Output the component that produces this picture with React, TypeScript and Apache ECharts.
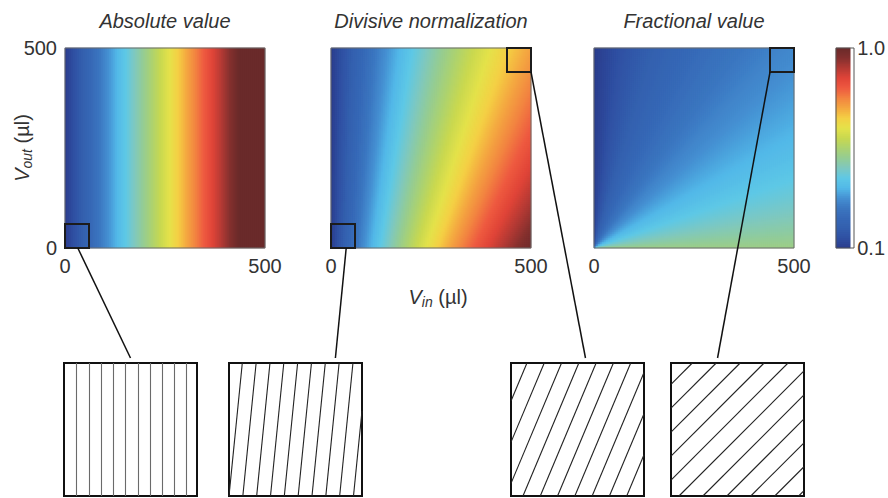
import React, { useEffect, useRef } from 'react';
import * as echarts from 'echarts';

// ---------- data ----------
const panelTitles = ['Absolute value', 'Divisive normalization', 'Fractional value'];
const volumeTicks = [0, 500]; // µl
const volumeMax = 500;
const colorTicks = [0.1, 1.0];
const gridCells = 100;

const absoluteGain = [1.15];
const divisiveParams = [2.48, 1.5, 1.0]; // gain, sigma, weight of V_out
const fractionalGain = [0.47];

const jetColors = [
  '#2a3c8c', '#2f4fa2', '#335fae', '#3668b6', '#3b76c0', '#4590d2', '#52b8e8',
  '#5ec8e6', '#7ec8c0', '#94cc94', '#acd270', '#c8d850', '#e4e24a', '#f4d044',
  '#f4a840', '#f28440', '#ee5a40', '#e04438', '#b43a34', '#84302e', '#6a2a2a',
];

// zoom squares, in µl: [panel, vinFrom, vinTo, voutFrom, voutTo]
const zoomSquares = [
  [0, 0, 60, 0, 60],
  [1, 0, 60, 0, 60],
  [1, 440, 500, 440, 500],
  [2, 440, 500, 440, 500],
];
// link start (µl, on the square) and end (fraction of inset width)
const linkSources = [[32, 0], [38, 0], [500, 440], [440, 440]];
const linkTargets = [0.5, 0.8, 0.56, 0.35];

// contour lines inside the insets (inset units 0..1): [x1, y1, x2, y2]
const hatchAbsolute = [
  [0.093, 0, 0.093, 1], [0.188, 0, 0.188, 1], [0.281, 0, 0.281, 1], [0.371, 0, 0.371, 1],
  [0.464, 0, 0.464, 1], [0.556, 0, 0.556, 1], [0.649, 0, 0.649, 1], [0.739, 0, 0.739, 1],
  [0.832, 0, 0.832, 1], [0.92, 0, 0.92, 1],
];
const hatchDivisiveLow = [
  [0, 0, 0.1, 1], [0.104, 0, 0.204, 1], [0.208, 0, 0.308, 1], [0.312, 0, 0.412, 1],
  [0.416, 0, 0.516, 1], [0.52, 0, 0.62, 1], [0.624, 0, 0.724, 1], [0.728, 0, 0.828, 1],
  [0.832, 0, 0.932, 1], [0.936, 0, 1, 0.64],
];
const hatchDivisiveHigh = [
  [0, 0.714, 0.12, 1], [0, 0.405, 0.25, 1], [0, 0.095, 0.38, 1], [0.09, 0, 0.51, 1],
  [0.22, 0, 0.64, 1], [0.35, 0, 0.77, 1], [0.48, 0, 0.9, 1], [0.61, 0, 1, 0.929],
  [0.74, 0, 1, 0.619], [0.87, 0, 1, 0.31],
];
const hatchFractional = [
  [0, 0.84, 0.16, 1], [0, 0.66, 0.34, 1], [0, 0.48, 0.52, 1], [0, 0.3, 0.7, 1],
  [0, 0.12, 0.88, 1], [0.06, 0, 1, 0.94], [0.24, 0, 1, 0.76], [0.42, 0, 1, 0.58],
  [0.6, 0, 1, 0.4], [0.78, 0, 1, 0.22], [0.96, 0, 1, 0.04],
];
const hatchSets = [hatchAbsolute, hatchDivisiveLow, hatchDivisiveHigh, hatchFractional];
const hatchColors = ['#6a6a6a', '#222', '#222', '#222'];

// ---------- layout ----------
const FONT = '"Liberation Sans", Arial, sans-serif';
const TEXT = '#333';
const PANEL_LEFT = [65, 331, 594];
const PANEL_TOP = 48;
const PANEL_SIZE = 200;
const CB = { left: 836, top: 48, width: 18, height: 200 };
const INSET_LEFT = [64, 229, 511, 671];
const INSET_TOP = 363;
const INSET_SIZE = 133;

const toColor = (c: number) => colorTicks[0] + (colorTicks[1] - colorTicks[0]) * Math.max(0, Math.min(1, c));

const models = [
  (x: number, _y: number) => absoluteGain[0] * x,
  (x: number, y: number) => (divisiveParams[0] * x) / (divisiveParams[1] + x + divisiveParams[2] * y),
  (x: number, y: number) => fractionalGain[0] * (x / (x + y)),
];

function buildPanel(p: number) {
  const data: number[][] = [];
  const rows = p === 0 ? 1 : gridCells;
  for (let i = 0; i < gridCells; i++) {
    for (let j = 0; j < rows; j++) {
      const x = (i + 0.5) / gridCells;
      const y = (j + 0.5) / rows;
      data.push([i, j, toColor(models[p](x, y))]);
    }
  }
  return data;
}

export default function App() {
  const ref = useRef<HTMLDivElement>(null);
  useEffect(() => {
    if (!ref.current) return;
    const chart = echarts.init(ref.current, undefined, { renderer: 'svg' });
    const cats = Array.from({ length: gridCells }, (_, i) => String(i));
    const labelStyle = { fontSize: 20, color: TEXT, fontFamily: FONT };

    const grids: any[] = [
      ...PANEL_LEFT.map((l) => ({ left: l, top: PANEL_TOP, width: PANEL_SIZE, height: PANEL_SIZE })),
      { left: CB.left, top: CB.top, width: CB.width, height: CB.height },
      ...INSET_LEFT.map((l) => ({
        left: l, top: INSET_TOP, width: INSET_SIZE, height: INSET_SIZE,
        show: true, borderColor: '#111', borderWidth: 2, backgroundColor: '#fff',
      })),
    ];

    const valueAxis = (g: number, show: boolean, position: string) => ({
      type: 'value', gridIndex: g, position, min: volumeTicks[0], max: volumeMax, interval: volumeMax,
      show, axisLine: { show: false }, axisTick: { show: false }, splitLine: { show: false },
      axisLabel: { ...labelStyle, margin: 8, showMinLabel: true, showMaxLabel: true },
    });

    const xAxis: any[] = [
      { type: 'category', gridIndex: 0, data: cats, show: false, position: 'top' },
      { type: 'category', gridIndex: 1, data: cats, show: false, position: 'top' },
      { type: 'category', gridIndex: 2, data: cats, show: false, position: 'top' },
      valueAxis(0, true, 'bottom'), valueAxis(1, true, 'bottom'), valueAxis(2, true, 'bottom'),
      { type: 'category', gridIndex: 3, data: ['0'], show: false },
      ...[4, 5, 6, 7].map((g) => ({ type: 'value', gridIndex: g, min: 0, max: 1, show: false })),
    ];
    const yAxis: any[] = [
      { type: 'category', gridIndex: 0, data: ['0'], show: false, position: 'right' },
      { type: 'category', gridIndex: 1, data: cats, show: false, position: 'right' },
      { type: 'category', gridIndex: 2, data: cats, show: false, position: 'right' },
      valueAxis(0, true, 'left'), valueAxis(1, false, 'left'), valueAxis(2, false, 'left'),
      { type: 'category', gridIndex: 3, data: cats, show: false, position: 'left' },
      {
        type: 'value', gridIndex: 3, position: 'right', min: colorTicks[0], max: colorTicks[1],
        axisLine: { show: false }, axisTick: { show: false }, splitLine: { show: false },
        axisLabel: { ...labelStyle, margin: 7, customValues: colorTicks, formatter: (v: number) => v.toFixed(1) },
      },
      ...[4, 5, 6, 7].map((g) => ({ type: 'value', gridIndex: g, min: 0, max: 1, show: false })),
    ];

    const heat = (p: number) => ({
      type: 'heatmap', xAxisIndex: p, yAxisIndex: p, data: buildPanel(p),
      progressive: 0, itemStyle: { borderWidth: 0 }, emphasis: { disabled: true }, silent: true,
    });
    const colorbarData = cats.map((_, k) => [0, k, toColor((k + 0.5) / gridCells)]);

    const series: any[] = [
      heat(0), heat(1), heat(2),
      {
        type: 'heatmap', xAxisIndex: 6, yAxisIndex: 6, data: colorbarData, progressive: 0,
        itemStyle: { borderWidth: 0 }, emphasis: { disabled: true }, silent: true,
      },
      ...hatchSets.map((set, b) => ({
        type: 'lines', coordinateSystem: 'cartesian2d', xAxisIndex: 7 + b, yAxisIndex: 8 + b,
        silent: true,
        lineStyle: { color: hatchColors[b], width: 1.1, opacity: 1 },
        data: set.map((s) => ({ coords: [[s[0], s[1]], [s[2], s[3]]] })),
      })),
    ];

    chart.setOption({
      animation: false,
      grid: grids,
      xAxis,
      yAxis,
      visualMap: {
        type: 'continuous', show: false, min: colorTicks[0], max: colorTicks[1], dimension: 2,
        seriesIndex: [0, 1, 2, 3], inRange: { color: jetColors },
      },
      series,
    });

    const px = (p: number, v: number[]) =>
      chart.convertToPixel({ xAxisIndex: 3 + p, yAxisIndex: 3 + p } as any, v) as number[];

    const graphics: any[] = [];
    // panel borders
    for (let p = 0; p < 3; p++) {
      const a = px(p, [0, 0]);
      const b = px(p, [volumeMax, volumeMax]);
      graphics.push({
        type: 'rect', z: 10,
        shape: { x: a[0], y: b[1], width: b[0] - a[0], height: a[1] - b[1] },
        style: { fill: 'none', stroke: '#6b6b6b', lineWidth: 1 },
      });
    }
    // colorbar border
    graphics.push({
      type: 'rect', z: 10,
      shape: { x: CB.left, y: CB.top, width: CB.width, height: CB.height },
      style: { fill: 'none', stroke: '#555', lineWidth: 1 },
    });
    // zoom squares
    zoomSquares.forEach((s) => {
      const a = px(s[0], [s[1], s[4]]);
      const b = px(s[0], [s[2], s[3]]);
      graphics.push({
        type: 'rect', z: 11,
        shape: { x: a[0], y: a[1], width: b[0] - a[0], height: b[1] - a[1] },
        style: { fill: 'none', stroke: '#1c1c1c', lineWidth: 2 },
      });
    });
    // links
    linkSources.forEach((src, i) => {
      const a = px(zoomSquares[i][0], src);
      const tx = INSET_LEFT[i] + linkTargets[i] * INSET_SIZE;
      const ty = INSET_TOP - 5;
      graphics.push({
        type: 'line', z: 12,
        shape: { x1: a[0], y1: a[1], x2: tx, y2: ty },
        style: { stroke: '#111', lineWidth: 1.5 },
      });
    });
    // titles
    panelTitles.forEach((t, p) => {
      graphics.push({
        type: 'text', z: 12, x: PANEL_LEFT[p] + PANEL_SIZE / 2, y: 21,
        style: {
          text: t, fill: TEXT, fontSize: 20, fontStyle: 'italic', fontFamily: FONT,
          align: 'center', verticalAlign: 'middle', textAlign: 'center', textVerticalAlign: 'middle',
        },
      });
    });
    const rich = {
      v: { fontSize: 20, fontStyle: 'italic', fontFamily: FONT, fill: TEXT, verticalAlign: 'bottom', lineHeight: 24, padding: [0, 0, 2, 0] },
      s: { fontSize: 14, fontStyle: 'italic', fontFamily: FONT, fill: TEXT, verticalAlign: 'bottom', lineHeight: 16 },
      u: { fontSize: 20, fontFamily: FONT, fill: TEXT, verticalAlign: 'bottom', lineHeight: 24, padding: [0, 0, 2, 0] },
    };
    graphics.push({
      type: 'text', z: 12, x: 438, y: 297,
      style: {
        text: '{v|V}{s|in}{u| (µl)}', rich,
        align: 'center', verticalAlign: 'middle', textAlign: 'center', textVerticalAlign: 'middle',
      },
    });
    graphics.push({
      type: 'text', z: 12, x: 22, y: 148, rotation: Math.PI / 2,
      style: {
        text: '{v|V}{s|out}{u| (µl)}', rich,
        align: 'center', verticalAlign: 'middle', textAlign: 'center', textVerticalAlign: 'middle',
      },
    });

    chart.setOption({ graphic: graphics });
    return () => chart.dispose();
  }, []);
  return <div ref={ref} style={{ position: 'fixed', left: 0, top: 0, width: 888, height: 498, background: '#fff' }} />;
}
